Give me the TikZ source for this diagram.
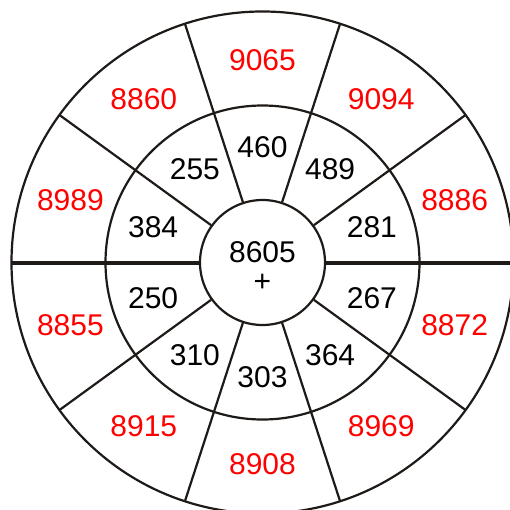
\documentclass[tikz,border=0pt]{standalone}
\usepackage{fontspec}
\setmainfont{Liberation Sans}
\usepackage{xcolor}
\definecolor{ink}{RGB}{30,26,24}

\begin{document}
\begin{tikzpicture}[
    x=1pt, y=1pt,
    ring/.style={line width=2.2pt, draw=ink},
    spoke/.style={line width=2.2pt, draw=ink},
    axis/.style={line width=4pt, draw=ink},
    outer/.style={text=red, font=\fontsize{30}{29}\selectfont},
    inner/.style={text=black, font=\fontsize{30}{29}\selectfont}
]
    \useasboundingbox (-262.5,-246.5) rectangle (247.5,262.5);

    % Rings
    \draw[ring] (0,0) circle (251);
    \draw[ring] (0,0) circle (157);
    \node[ring, circle, minimum size=125, inner sep=0pt] (hub) at (0,0) {};
    \node[inner, align=center] (sum) at (0,-4) {8605\\+};

    % Spokes
    \draw[axis] (hub.west) -- (180:251);
    \draw[axis] (hub.east) -- (0:251);
    \draw[spoke] (hub.36) -- (36:251);
    \draw[spoke] (hub.72) -- (72:251);
    \draw[spoke] (hub.108) -- (108:251);
    \draw[spoke] (hub.144) -- (144:251);
    \draw[spoke] (hub.216) -- (216:251);
    \draw[spoke] (hub.252) -- (252:251);
    \draw[spoke] (hub.288) -- (288:251);
    \draw[spoke] (hub.324) -- (324:251);

    % Inner ring
    \node[inner] (in90) at (90:115) {460};
    \node[inner] (in54) at (54:115) {489};
    \node[inner] (in18) at (18:115) {281};
    \node[inner] (in-18) at (-18:115) {267};
    \node[inner] (in-54) at (-54:115) {364};
    \node[inner] (in-90) at (-90:115) {303};
    \node[inner] (in-126) at (-126:115) {310};
    \node[inner] (in-162) at (-162:115) {250};
    \node[inner] (in162) at (162:115) {384};
    \node[inner] (in126) at (126:115) {255};

    % Outer ring
    \node[outer] (out90) at (90:202) {9065};
    \node[outer] (out54) at (54:202) {9094};
    \node[outer] (out18) at (18:202) {8886};
    \node[outer] (out-18) at (-18:202) {8872};
    \node[outer] (out-54) at (-54:202) {8969};
    \node[outer] (out-90) at (-90:202) {8908};
    \node[outer] (out-126) at (-126:202) {8915};
    \node[outer] (out-162) at (-162:202) {8855};
    \node[outer] (out162) at (162:202) {8989};
    \node[outer] (out126) at (126:202) {8860};
\end{tikzpicture}
\end{document}
